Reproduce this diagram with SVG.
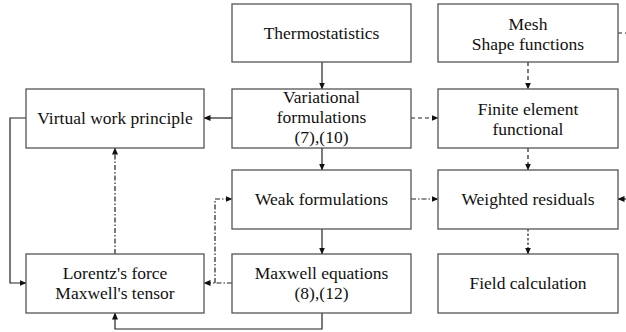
<svg xmlns="http://www.w3.org/2000/svg" width="626" height="332" viewBox="0 0 626 332">
<style>
.n{fill:#fff;stroke:#555;stroke-width:1.3}
text{font-family:'Liberation Serif','DejaVu Serif',serif;font-size:17.5px;fill:#111;text-anchor:middle}
.c{fill:none;stroke:#222;stroke-width:1.2}
.d{stroke-dasharray:4,3}
.dd{stroke-dasharray:5,2,1.5,2}
.dt{stroke-dasharray:2.5,2}
</style>
<defs>
<marker id="a" markerWidth="7" markerHeight="6" refX="6.5" refY="3" orient="auto" markerUnits="userSpaceOnUse">
<path d="M0,0 L7,3 L0,6 Z" fill="#111"/>
</marker>
</defs>
<rect width="626" height="332" fill="#fff"/>
<g id="connectors">
<path class="c" d="M322,62 V89" marker-end="url(#a)"/>
<path class="c" d="M232,118 H204" marker-end="url(#a)"/>
<path class="c d" d="M411,118 H438" marker-end="url(#a)"/>
<path class="c d" d="M528,62 V89" marker-end="url(#a)"/>
<path class="c d" d="M528,148 V170" marker-end="url(#a)"/>
<path class="c" d="M322,148 V170" marker-end="url(#a)"/>
<path class="c dd" d="M411,199 H438" marker-end="url(#a)"/>
<path class="c" d="M322,229 V254" marker-end="url(#a)"/>
<path class="c dt" d="M528,229 V254" marker-end="url(#a)"/>
<path class="c dd" d="M232,283 H204" marker-end="url(#a)"/>
<path class="c dd" d="M215,283 V199 H232" marker-end="url(#a)"/>
<path class="c dd" d="M115,254 V148" marker-end="url(#a)"/>
<path class="c" d="M26,118 H10 V283 H26" marker-end="url(#a)"/>
<path class="c" d="M322,313 V329 H115 V313" marker-end="url(#a)"/>
<path class="c d" d="M618,33 H628"/>
<path class="c" d="M628,199 H618" marker-end="url(#a)"/>
</g>
<g id="thermostatistics"><rect class="n" x="232" y="4" width="179" height="58"/><text x="321.5" y="39">Thermostatistics</text></g>
<g id="mesh"><rect class="n" x="438" y="4" width="180" height="58"/><text x="528" y="30">Mesh</text><text x="528" y="50">Shape functions</text></g>
<g id="virtual-work"><rect class="n" x="26" y="89" width="178" height="59"/><text x="115" y="124">Virtual work principle</text></g>
<g id="variational"><rect class="n" x="232" y="89" width="179" height="59"/><text x="321.5" y="103">Variational</text><text x="321.5" y="123">formulations</text><text x="321.5" y="143">(7),(10)</text></g>
<g id="finite-element"><rect class="n" x="438" y="89" width="180" height="59"/><text x="528" y="115">Finite element</text><text x="528" y="135">functional</text></g>
<g id="weak"><rect class="n" x="232" y="170" width="179" height="59"/><text x="321.5" y="205">Weak formulations</text></g>
<g id="weighted"><rect class="n" x="438" y="170" width="180" height="59"/><text x="528" y="205">Weighted residuals</text></g>
<g id="lorentz"><rect class="n" x="26" y="254" width="178" height="59"/><text x="115" y="279">Lorentz's force</text><text x="115" y="299">Maxwell's tensor</text></g>
<g id="maxwell"><rect class="n" x="232" y="254" width="179" height="59"/><text x="321.5" y="279">Maxwell equations</text><text x="321.5" y="299">(8),(12)</text></g>
<g id="field"><rect class="n" x="438" y="254" width="180" height="59"/><text x="528" y="289">Field calculation</text></g>
</svg>
